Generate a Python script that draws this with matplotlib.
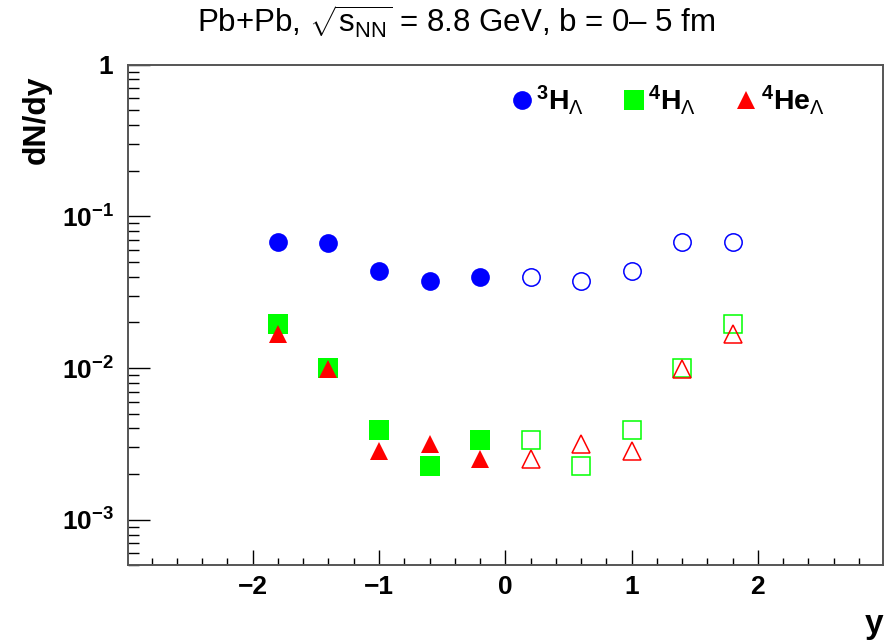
import matplotlib
matplotlib.use('Agg')
import matplotlib.pyplot as plt
import numpy as np
from matplotlib.ticker import LogLocator, FixedLocator, FixedFormatter, MultipleLocator, NullFormatter

# ---- data ----
rapidity = [-1.8, -1.4, -1.0, -0.6, -0.2, 0.2, 0.6, 1.0, 1.4, 1.8]
h3l = [0.0675, 0.0668, 0.0435, 0.0374, 0.0397, 0.0397, 0.0374, 0.0435, 0.0675, 0.0682]
h4l = [0.0194, 0.00995, 0.00389, 0.00227, 0.00334, 0.00334, 0.00227, 0.00389, 0.00995, 0.0194]
he4l = [0.0167, 0.0098, 0.00284, 0.00315, 0.00251, 0.00251, 0.00315, 0.00284, 0.0098, 0.0167]
series_labels = [r'${}^{\mathbf{3}}\mathbf{H}_{\Lambda}$',
                 r'${}^{\mathbf{4}}\mathbf{H}_{\Lambda}$',
                 r'${}^{\mathbf{4}}\mathbf{He}_{\Lambda}$']
xtick_vals = [-2, -1, 0, 1, 2]
xtick_labels = ['\u22122', '\u22121', '0', '1', '2']
ytick_vals = [1e-3, 1e-2, 1e-1, 1.0]
ytick_labels = [r'$\mathbf{10^{-3}}$', r'$\mathbf{10^{-2}}$', r'$\mathbf{10^{-1}}$', r'$\mathbf{1}$']
title_text = 'Pb+Pb, ' + r'$\sqrt{\mathrm{s}_{\mathrm{NN}}}$' + ' = 8.8 GeV, b = 0\u2013 5 fm'

plt.rcParams['font.family'] = ['Liberation Sans', 'DejaVu Sans']
plt.rcParams['mathtext.fontset'] = 'custom'
plt.rcParams['mathtext.rm'] = 'Liberation Sans'
plt.rcParams['mathtext.bf'] = 'Liberation Sans:bold'
plt.rcParams['mathtext.it'] = 'Liberation Sans:italic'

fig = plt.figure(figsize=(8.89, 6.41), dpi=100)
ax = fig.add_axes([0.1436, 0.1178, 0.8496, 0.7813])

x = np.array(rapidity)
neg = x < 0
pos = x > 0
styles = [('o', '#0000ff', 13.5), ('s', '#00ff00', 14.0), ('^', '#ff0000', 13.5)]
handles = []
for vals, (m, c, ms), lab in zip([h3l, h4l, he4l], styles, series_labels):
    v = np.array(vals)
    h, = ax.plot(x[neg], v[neg], linestyle='none', marker=m, ms=ms, color=c,
                 markeredgewidth=0, label=lab)
    ax.plot(x[pos], v[pos], linestyle='none', marker=m, ms=ms - 1, markerfacecolor='none',
            markeredgecolor=c, markeredgewidth=1.1)
    handles.append(h)

ax.set_yscale('log')
ax.set_xlim(-2.99, 2.99)
ax.set_ylim(5e-4, 1.0)

ax.yaxis.set_major_locator(FixedLocator(ytick_vals))
ax.yaxis.set_major_formatter(FixedFormatter(ytick_labels))
ax.yaxis.set_minor_locator(LogLocator(base=10, subs=np.arange(2, 10)))
ax.yaxis.set_minor_formatter(NullFormatter())
ax.set_xticks(xtick_vals)
ax.set_xticklabels(xtick_labels, fontweight='bold')
ax.xaxis.set_minor_locator(MultipleLocator(0.2))

ax.tick_params(axis='both', which='both', direction='in', top=False, right=False, width=1.0, colors='black')
ax.tick_params(axis='y', which='major', length=15.8, pad=10, labelsize=19)
ax.tick_params(axis='y', which='minor', length=7.9)
ax.tick_params(axis='x', which='major', length=10.8, pad=7, labelsize=19)
ax.tick_params(axis='x', which='minor', length=5.0)
for s in ax.spines.values():
    s.set_linewidth(1.4)
    s.set_color('#555555')

leg = ax.legend(handles=handles, ncol=3, loc='center left', bbox_to_anchor=(0.5107, 0.9295),
                frameon=False, fontsize=20.5, handlelength=0.6, handletextpad=0.2,
                columnspacing=1.45, borderpad=0, borderaxespad=0)

fig.text(0.513, 1 - 22 / 641, title_text, ha='center', va='center', fontsize=22.5)
fig.text(37 / 889, 1 - 75 / 641, 'dN/dy', rotation=90, ha='center', va='top', fontsize=23, fontweight='bold')
fig.text(883 / 889, 1 - 633 / 641, 'y', ha='right', va='baseline', fontsize=24, fontweight='bold')

fig.savefig('out.png', dpi=100)
